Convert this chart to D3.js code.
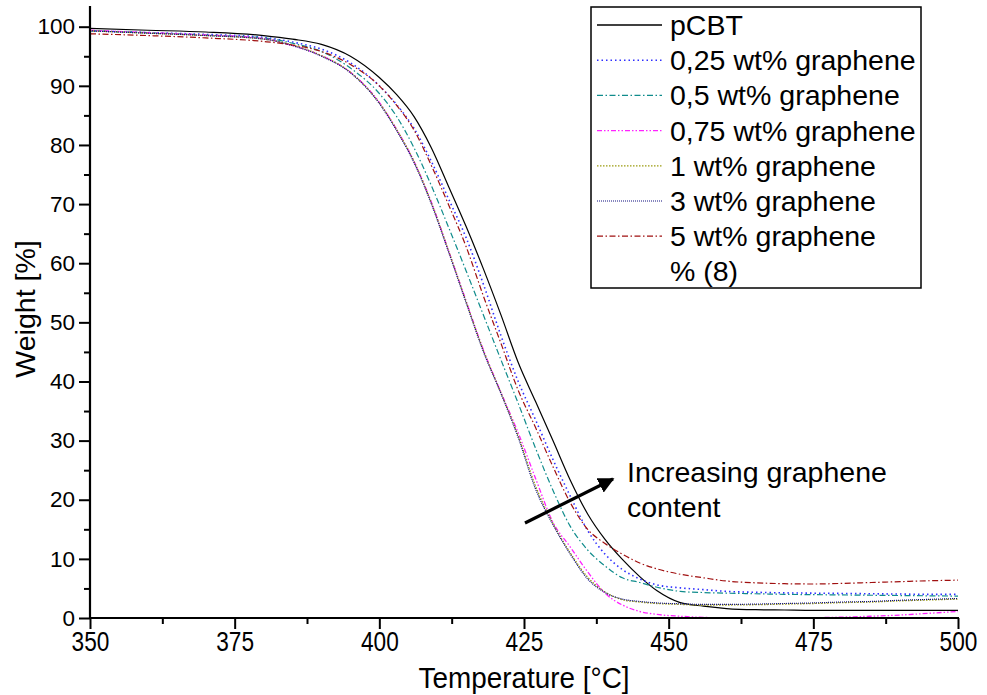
<!DOCTYPE html>
<html><head><meta charset="utf-8">
<script src="https://cdn.jsdelivr.net/npm/d3@7"></script>
<style>
body{margin:0;background:#fff;}
svg{display:block;font-family:"Liberation Sans",Arial,sans-serif;}
</style></head><body>
<svg id="chart" width="987" height="695"></svg>
<script>
const temps = [350,360,370,380,385,390,395,400,403,406,409,412,415,418,421,424,427,430,433,436,439,442,445,448,452,456,460,465,470,475,480,485,490,495,500];
const pCBT   = [99.7,99.4,99.1,98.5,97.9,97.0,95.0,91.4,88.5,84.8,79.5,72.9,66.2,59.0,51.3,43.2,36.6,30.0,23.3,17.6,13.3,9.9,7.0,4.6,2.6,2.0,1.6,1.4,1.35,1.3,1.3,1.3,1.3,1.3,1.3];
const g025   = [99.3,99.0,98.7,98.2,97.4,96.2,93.9,90.0,86.8,82.8,77.2,70.8,64.3,56.4,47.8,40.0,33.5,26.8,20.6,14.8,10.8,8.2,6.6,5.6,5.1,4.8,4.5,4.35,4.25,4.2,4.15,4.1,4.05,4.0,4.0];
const g05    = [99.3,99.0,98.6,98.1,97.2,95.8,93.0,88.7,84.8,79.5,73.1,66.0,58.7,51.2,43.7,36.3,28.7,21.6,15.5,11.5,8.8,6.8,6.0,5.2,4.5,4.3,4.2,4.1,4.0,3.95,3.9,3.85,3.8,3.75,3.7];
const g075   = [99.4,99.0,98.6,98.0,96.8,95.1,92.3,87.2,82.6,77.2,70.3,62.0,53.6,45.3,38.2,31.3,23.6,16.2,12.0,7.8,4.2,2.2,1.1,0.6,0.3,0.1,0.05,0.0,0.0,0.05,0.15,0.3,0.5,0.8,1.1];
const g1     = [99.3,98.9,98.5,97.9,96.9,95.1,92.3,87.1,82.6,77.2,70.2,62.0,53.5,45.2,38.1,30.8,22.3,16.0,11.0,6.9,4.4,3.1,2.7,2.45,2.3,2.2,2.2,2.25,2.35,2.45,2.6,2.7,2.9,3.05,3.2];
const g3     = [99.3,98.9,98.5,97.9,96.8,95.0,92.2,87.0,82.4,77.0,70.0,61.8,53.3,45.0,38.0,30.5,21.8,15.8,10.8,6.6,4.3,3.2,2.8,2.55,2.4,2.3,2.3,2.35,2.45,2.55,2.7,2.8,3.0,3.15,3.3];
const g5     = [98.8,98.5,98.1,97.5,96.9,95.8,93.6,90.0,86.7,82.5,76.5,69.8,62.8,54.4,46.5,38.5,32.2,25.6,19.5,15.0,12.6,10.8,9.3,8.3,7.4,6.8,6.25,5.95,5.8,5.75,5.85,6.0,6.15,6.3,6.4];
const seriesNames = ["pCBT","0,25 wt% graphene","0,5 wt% graphene","0,75 wt% graphene","1 wt% graphene","3 wt% graphene","5 wt% graphene"];
const seriesValues = [pCBT,g025,g05,g075,g1,g3,g5];
const xTicks = [350,375,400,425,450,475,500];
const yTicks = [0,10,20,30,40,50,60,70,80,90,100];
const extraLegend = "% (8)";
const annotationLines = ["Increasing graphene","content"];

const styles = [
  {color:"#000000", dash:null, w:1.2},
  {color:"#2f2fff", dash:"1.5,3", w:1.6},
  {color:"#108c8c", dash:"6,2.5,1.5,2.5", w:1.2},
  {color:"#ff22ff", dash:"5,2,1.5,2,1.5,2", w:1.3},
  {color:"#9c9c10", dash:"1.5,1.5", w:1.3},
  {color:"#101080", dash:"1,1", w:1.2},
  {color:"#a01010", dash:"6,2.5,1.5,2.5", w:1.2}
];

const svg = d3.select("#chart");
const L=90, R=958, T0=6, B=618;
const x = d3.scaleLinear().domain([350,500]).range([L,R]);
const y = d3.scaleLinear().domain([0,103.5]).range([B,T0]);

svg.append("defs").append("clipPath").attr("id","clip")
  .append("rect").attr("x",L).attr("y",T0).attr("width",R-L).attr("height",B-T0+1);

const line = d3.line().x((d,i)=>x(temps[i])).y(d=>y(d)).curve(d3.curveMonotoneX);
const g = svg.append("g").attr("clip-path","url(#clip)");
seriesValues.forEach((vals,k)=>{
  g.append("path").datum(vals).attr("d",line)
   .attr("fill","none").attr("stroke",styles[k].color)
   .attr("stroke-width",styles[k].w)
   .attr("stroke-dasharray",styles[k].dash);
});

// axes
const minorX = d3.range(350,500.1,12.5).filter(v=>v%25!==0);
const minorY = d3.range(5,100,10);
const xAxis = svg.append("g").attr("transform",`translate(0,${B})`)
  .call(d3.axisBottom(x).tickValues(xTicks).tickSize(11).tickPadding(4).tickFormat(d3.format("d")));
svg.append("g").attr("transform",`translate(0,${B})`)
  .call(d3.axisBottom(x).tickValues(minorX).tickSize(6).tickFormat(""))
  .select(".domain").remove();
const yAxis = svg.append("g").attr("transform",`translate(${L},0)`)
  .call(d3.axisLeft(y).tickValues(yTicks).tickSize(11).tickPadding(4).tickFormat(d3.format("d")));
svg.append("g").attr("transform",`translate(${L},0)`)
  .call(d3.axisLeft(y).tickValues(minorY).tickSize(6).tickFormat(""))
  .select(".domain").remove();

svg.selectAll(".domain").attr("stroke","#000").attr("stroke-width",2.2);
svg.selectAll(".tick line").attr("stroke","#000").attr("stroke-width",2);
xAxis.select(".domain").attr("d",`M${L-1},0H${R+1}`);
yAxis.select(".domain").attr("d",`M0,${B+1}V${T0}`);

yAxis.selectAll(".tick text").attr("font-size",22.5).attr("fill","#000")
  .attr("font-family","Liberation Sans, Arial, sans-serif");
xAxis.selectAll(".tick text").attr("font-size",27).attr("fill","#000")
  .attr("font-family","Liberation Sans, Arial, sans-serif")
  .attr("dy",null).attr("y",0)
  .attr("transform","translate(0,33) scale(0.84,1)");

// axis titles
svg.append("text").attr("transform",`translate(${(L+R)/2},688) scale(0.93,1)`)
  .attr("text-anchor","middle").attr("font-size",30).text("Temperature [°C]");
svg.append("text").attr("transform",`translate(35,${309}) rotate(-90)`)
  .attr("text-anchor","middle").attr("font-size",28.5).text("Weight [%]");

// legend
const lg = svg.append("g");
lg.append("rect").attr("x",591).attr("y",7).attr("width",330).attr("height",281)
  .attr("fill","#fff").attr("stroke","#000").attr("stroke-width",1.5);
const rowY = k => 25 + k*35.2;
seriesNames.forEach((nm,k)=>{
  lg.append("line").attr("x1",597).attr("x2",662).attr("y1",rowY(k)).attr("y2",rowY(k))
    .attr("stroke",styles[k].color).attr("stroke-width",k===0?1.6:styles[k].w)
    .attr("stroke-dasharray",styles[k].dash);
  lg.append("text").attr("x",670).attr("y",rowY(k)+10).attr("font-size",28.5).text(nm);
});
lg.append("text").attr("x",670).attr("y",rowY(7)+10).attr("font-size",28.5).text(extraLegend);

// annotation
annotationLines.forEach((t,i)=>{
  svg.append("text").attr("x",627).attr("y",482+i*35).attr("font-size",28.5).text(t);
});
svg.append("defs").append("marker").attr("id","arr").attr("viewBox","0 0 10 10")
  .attr("refX",9).attr("refY",5).attr("markerWidth",5).attr("markerHeight",5)
  .attr("orient","auto").attr("markerUnits","strokeWidth")
  .append("path").attr("d","M0,0L10,5L0,10z").attr("fill","#000");
svg.append("line").attr("x1",525).attr("y1",523).attr("x2",613).attr("y2",479)
  .attr("stroke","#000").attr("stroke-width",3.2).attr("marker-end","url(#arr)");
</script>
</body></html>
